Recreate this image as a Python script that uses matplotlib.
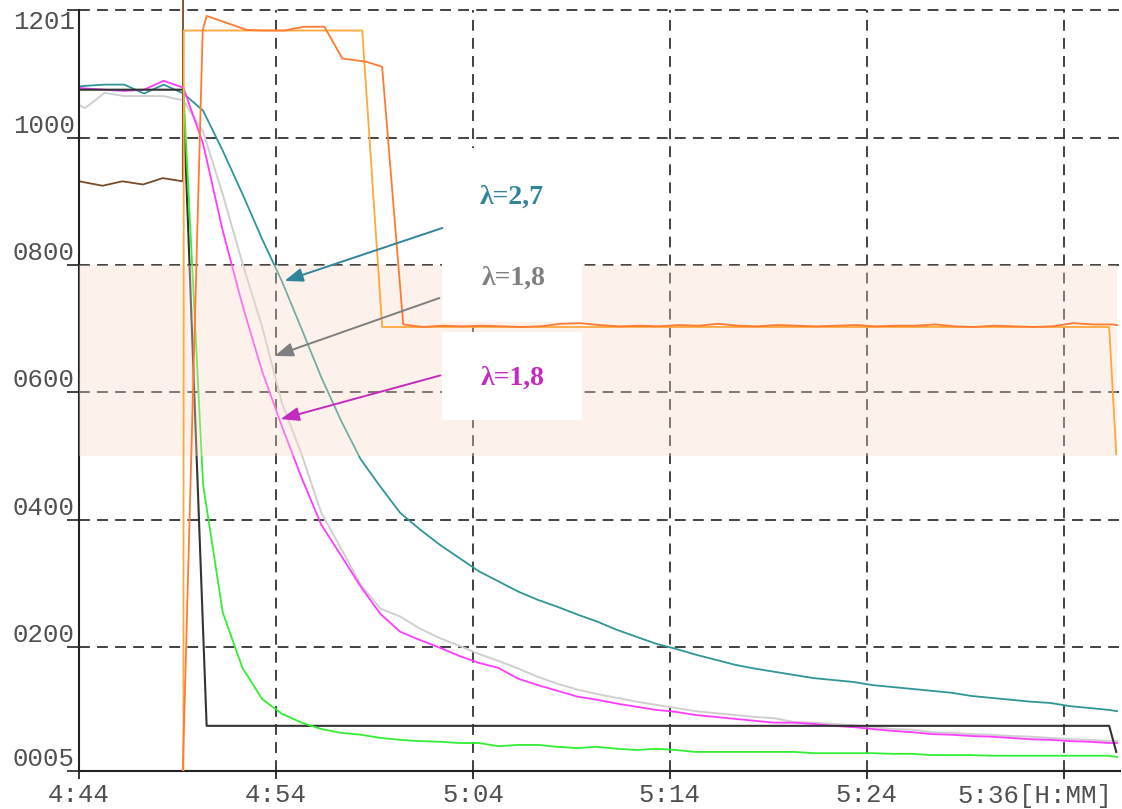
import numpy as np
import matplotlib.pyplot as plt
from matplotlib.patches import Rectangle, FancyArrowPatch
from matplotlib.transforms import ScaledTranslation

# time in minutes after 4:44, logger samples once a minute
pre_t = [0, 0.3, 1.3, 2.3, 3.3, 4.3]
post_t = list(5.3 + np.arange(48))
end_t = 52.7

teal_pre = [1081, 1082, 1084, 1084, 1070, 1084]
teal_post = [1070, 1043, 980, 912, 841, 775, 700, 624, 556, 495, 452, 411, 385, 361, 340,
             319, 303, 287, 274, 263, 251, 240, 227, 216, 205, 197, 188, 180, 172, 166,
             161, 156, 151, 148, 145, 140, 137, 134, 131, 128, 123, 120, 117, 114, 112,
             107, 104, 101]
teal_end = 99

magenta_pre = [1079, 1078, 1076, 1074, 1076, 1090]
magenta_post = [1079, 991, 854, 737, 633, 547, 466, 392, 344, 295, 252, 224, 211, 199, 186,
                175, 167, 150, 140, 131, 122, 117, 111, 106, 101, 98, 93, 90, 87, 84,
                81, 81, 79, 76, 74, 71, 68, 66, 63, 62, 60, 59, 57, 55, 54, 52, 51, 49]
magenta_end = 49

gray_pre = [1052, 1047, 1071, 1066, 1066, 1066]
gray_post = [1059, 1010, 911, 803, 703, 584, 503, 411, 355, 298, 260, 248, 229, 214, 202,
             189, 178, 166, 153, 142, 133, 126, 120, 114, 109, 104, 99, 96, 93, 90,
             88, 82, 81, 79, 77, 74, 71, 70, 66, 65, 63, 62, 60, 59, 57, 55, 54, 52]
gray_end = 52

green_post = [1076, 455, 254, 167, 118, 95, 81, 71, 65, 62, 57, 54, 52, 51, 49,
              49, 44, 46, 46, 43, 41, 43, 40, 38, 40, 38, 35, 35, 35, 35,
              35, 35, 33, 33, 33, 33, 32, 32, 30, 30, 30, 29, 29, 29, 29, 29, 29, 29]
green_end = 27

black_t = [0, 5.28, 6.48, 52.3, 52.66]
black_v = [1076, 1076, 76, 76, 35]

brown_t = [0, 1.2, 2.2, 3.25, 4.25, 5.27, 5.29]
brown_v = [932, 925, 932, 927, 937, 932, 1400]

amber_t = [5.3, 5.32, 14.38, 15.39, 52.3, 52.66]
amber_v = [5, 1169, 1169, 703, 703, 503]

red_t = [5.27, 6.28, 6.48, 7.5, 8.51, 9.42, 10.43, 11.44, 12.46, 13.37, 14.58, 15.39, 16.46] \
    + list(17.45 + np.arange(36)) + [52.7]
red_v = [5, 1169, 1192, 1181, 1170, 1169, 1169, 1175, 1175, 1125, 1120, 1112, 707,
         703, 705, 704, 705, 704, 703, 704, 708, 709, 706,
         704, 705, 704, 706, 705, 708, 705, 704, 706, 705,
         704, 705, 706, 704, 705, 705, 707, 704, 703, 705,
         704, 703, 704, 709, 707, 707, 706]

x_ticks = [0, 10, 20, 30, 40, 50]
x_labels = ['4:44', '4:54', '5:04', '5:14', '5:24', '5:36[H:MM]']
y_ticks = [5, 200, 400, 600, 800, 1000, 1201]
y_labels = ['0005', '0200', '0400', '0600', '0800', '1000', '1201']

band = (500, 800)

fig = plt.figure(figsize=(11.22, 8.09), dpi=100)
ax = fig.add_axes([79 / 1122, 38 / 809, 1041 / 1122, 771 / 809])
ax.set_xlim(0, 52.85)
ax.set_ylim(5, 1217)

grid_kw = dict(color='#333333', lw=1.3, linestyle=(0, (6, 4)), zorder=1)
ax.hlines(y_ticks[1:], 0, 52.85, **grid_kw)
ax.vlines(x_ticks[1:], 5, 1201, **grid_kw)

def series(pre, post, end):
    return pre + post + [end]

ax.plot(brown_t, brown_v, color='#7a4a26', lw=1.3, zorder=2)
ax.plot(pre_t + post_t + [end_t], series(gray_pre, gray_post, gray_end), color='#cfcfcf', lw=1.4, zorder=2)
ax.plot(pre_t + post_t + [end_t], series(teal_pre, teal_post, teal_end), color='#2f9595', lw=1.3, zorder=2)
ax.plot(pre_t + post_t + [end_t], series(magenta_pre, magenta_post, magenta_end), color='#ff3cff', lw=1.3, zorder=2)
ax.plot(black_t, black_v, color='#333333', lw=1.5, zorder=2)
ax.plot(post_t + [end_t], green_post + [green_end], color='#33ee33', lw=1.3, zorder=2)

# target band, drawn semi-transparent over the lines below it
ax.add_patch(Rectangle((0, band[0]), 52.7, band[1] - band[0], facecolor='#f9dcc8',
                       alpha=0.35, edgecolor='none', zorder=3))

ax.plot(amber_t, amber_v, color='#ffa83c', lw=1.3, zorder=4)
ax.plot(red_t, red_v, color='#ff7a32', lw=1.3, zorder=4)

# white label boxes
ax.add_patch(Rectangle((18.43, 711), 7.1, 274, facecolor='white', edgecolor='none', zorder=5))
ax.add_patch(Rectangle((18.43, 557), 7.1, 138, facecolor='white', edgecolor='none', zorder=5))

labels = [
    ('λ=2,7', '#31849b', (21.98, 907), (18.58, 860), (10.30, 774)),
    ('λ=1,8', '#7f7f7f', (22.08, 780), (18.43, 750), (9.80, 656)),
    ('λ=1,8', '#c52ac0', (22.03, 623), (18.48, 628), (10.10, 557)),
]
for txt, col, pos, start, tip in labels:
    ax.text(pos[0], pos[1], txt, color=col, fontsize=20, fontweight='bold',
            family='Liberation Serif', ha='center', va='center', zorder=7)
    ax.add_patch(FancyArrowPatch(start, tip, arrowstyle='-|>,head_length=0.8,head_width=0.3',
                                 mutation_scale=14, color=col, lw=1.4, zorder=6))

for side in ['top', 'right']:
    ax.spines[side].set_visible(False)
ax.spines['left'].set_bounds(5, 1201)
for side in ['left', 'bottom']:
    ax.spines[side].set_color('#222222')
    ax.spines[side].set_linewidth(1.5)

ax.set_xticks(x_ticks)
ax.set_xticklabels(x_labels)
ax.set_yticks(y_ticks)
ax.set_yticklabels(y_labels)
ax.tick_params(axis='x', length=6, width=1.3, color='#222222', pad=3,
               labelsize=18.5, labelcolor='#505050')
ax.tick_params(axis='y', length=9, width=1.3, color='#333333', pad=-6,
               labelsize=18.5, labelcolor='#505050')
for lab in ax.get_xticklabels() + ax.get_yticklabels():
    lab.set_family('Liberation Mono')
for lab in ax.get_yticklabels():
    lab.set_va('bottom')
ax.get_yticklabels()[-1].set_va('top')
last = ax.get_xticklabels()[-1]
last.set_ha('right')
last.set_transform(last.get_transform() + ScaledTranslation(0.49, 0, fig.dpi_scale_trans))

fig.savefig('out.png', dpi=100)
